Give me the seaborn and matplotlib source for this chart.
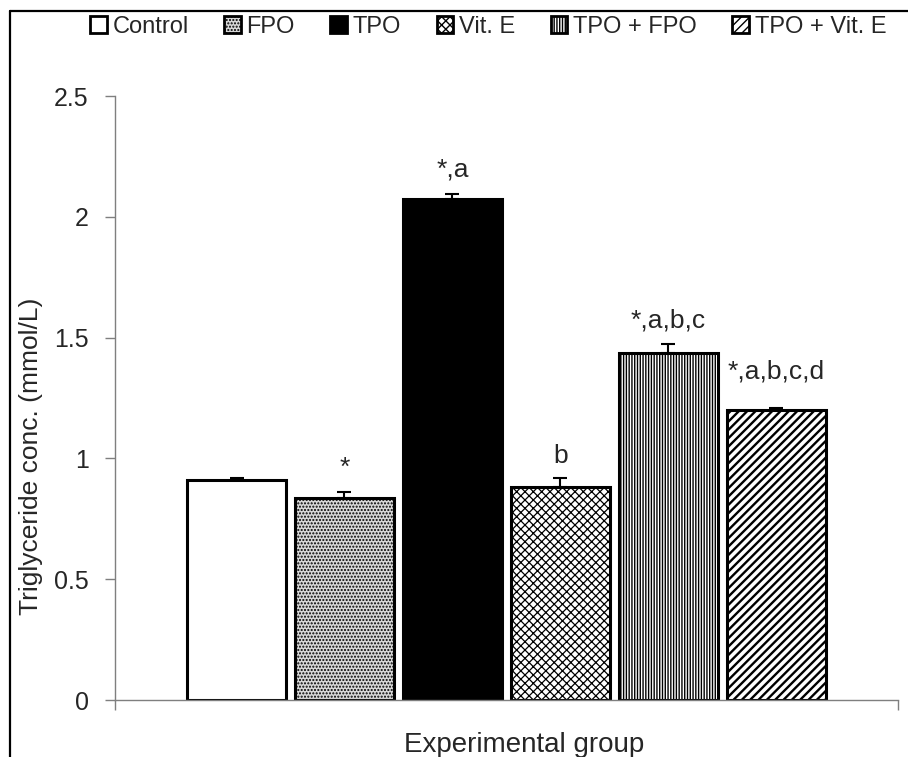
import numpy as np
import pandas as pd
import matplotlib.pyplot as plt
import seaborn as sns
from matplotlib.patches import Patch
from matplotlib.lines import Line2D

# values
groups = ["Control", "FPO", "TPO", "Vit. E", "TPO + FPO", "TPO + Vit. E"]
tg_mean = [0.91, 0.837, 2.075, 0.88, 1.437, 1.20]
tg_err = [0.007, 0.025, 0.02, 0.037, 0.035, 0.007]
sig_labels = ["", "*", "*,a", "b", "*,a,b,c", "*,a,b,c,d"]
yticks = [0, 0.5, 1, 1.5, 2, 2.5]

face_colors = ["white", "#d8d8d8", "black", "white", "white", "white"]
hatches = [None, ".....", None, "xxxx", "||||||", "////"]
hatch_widths = [1.0, 1.0, 1.0, 0.9, 1.0, 1.7]
label_pad = [17, 17, 17, 15, 17, 30]

sns.set_style("white")
plt.rcParams["font.family"] = ["Liberation Sans", "DejaVu Sans"]
plt.rcParams["hatch.linewidth"] = 1.0

df = pd.DataFrame({"group": groups, "tg": tg_mean})

fig = plt.figure(figsize=(9.08, 7.57), dpi=100)
ax = fig.add_axes([115 / 908, 57 / 757, 783 / 908, 604 / 757])

sns.barplot(data=df, x="group", y="tg", hue="group", palette=face_colors,
            width=0.918, edgecolor="black", linewidth=2.2, legend=False, ax=ax)

for bar, h, hw in zip(ax.patches, hatches, hatch_widths):
    if h:
        bar.set_hatch(h)
        if hasattr(bar, "set_hatch_linewidth"):
            bar.set_hatch_linewidth(hw)

xpos = np.arange(len(groups))
ax.errorbar(xpos, tg_mean, yerr=[np.zeros(len(groups)), tg_err], fmt="none",
            ecolor="black", elinewidth=1.5, capsize=5, capthick=1.5, zorder=3)

for x, m, e, s, p in zip(xpos, tg_mean, tg_err, sig_labels, label_pad):
    if s:
        ax.annotate(s, (x, m + e), xytext=(0, p), textcoords="offset pixels",
                    ha="center", va="baseline", fontsize=19)

ax.set_xlim(-1.126, 6.13)
ax.set_ylim(0, 2.5)
ax.set_yticks(yticks)
ax.set_yticklabels([f"{t:g}" for t in yticks])
ax.set_xticks([-1.126, 6.13])
ax.set_xticklabels([])
ax.tick_params(axis="both", direction="out", length=7, width=1, color="#7f7f7f",
               labelsize=18, pad=12)
ax.tick_params(axis="y", left=True)
ax.tick_params(axis="x", bottom=True)

for side in ["top", "right"]:
    ax.spines[side].set_visible(False)
for side in ["left", "bottom"]:
    ax.spines[side].set_color("#7f7f7f")
    ax.spines[side].set_linewidth(1)

ax.set_xlabel("Experimental group", fontsize=20)
ax.set_ylabel("Triglyceride conc. (mmol/L)", fontsize=19)
ax.xaxis.set_label_coords(0.523, -0.053)
ax.yaxis.set_label_coords(-0.092, 0.404)

handles = []
for fc, h, hw in zip(face_colors, hatches, hatch_widths):
    p = Patch(facecolor=fc, edgecolor="black", hatch=h, linewidth=2)
    handles.append(p)
fig.legend(handles, groups, loc="upper left", bbox_to_anchor=(90 / 908, 1 - 16 / 757),
           ncol=6, frameon=False, fontsize=17, handlelength=0.7, handleheight=0.7,
           handletextpad=0.25, columnspacing=1.5, borderaxespad=0, borderpad=0)

# outer frame (left and top edges of the original figure border)
fig.add_artist(Line2D([9.5 / 908, 9.5 / 908], [0, 1 - 10.5 / 757],
                      transform=fig.transFigure, color="black", lw=1.6))
fig.add_artist(Line2D([9.5 / 908, 1], [1 - 10.5 / 757, 1 - 10.5 / 757],
                      transform=fig.transFigure, color="black", lw=1.6))

fig.savefig("out.png", dpi=100)
